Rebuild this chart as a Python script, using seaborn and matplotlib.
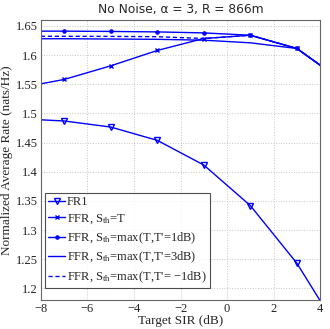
import matplotlib
matplotlib.use("Agg")
import matplotlib.pyplot as plt
import seaborn as sns
import pandas as pd

# Data
x = [-8, -7, -5, -3, -1, 1, 3, 4]
fr1 = [1.489, 1.487, 1.4766, 1.4538, 1.4115, 1.342, 1.2432, 1.179]
ffr_t = [1.5507, 1.5582, 1.5815, 1.6079, 1.6284, 1.634, 1.6113, 1.5827]
ffr_1db = [1.641, 1.641, 1.6405, 1.6397, 1.638, 1.634, 1.6113, 1.5827]
ffr_3db = [1.628, 1.628, 1.6275, 1.627, 1.6255, 1.621, 1.6113, 1.5827]
ffr_m1db = [1.6322, 1.6322, 1.632, 1.6315, 1.6284, 1.634, 1.6113, 1.5827]

labels = ["FR1",
          r"FFR, S$_{\mathrm{th}}$=T",
          r"FFR, S$_{\mathrm{th}}$=max(T,T'=1dB)",
          r"FFR, S$_{\mathrm{th}}$=max(T,T'=3dB)",
          r"FFR, S$_{\mathrm{th}}$=max(T,T'= $-$1dB)"]
xticks = [-8, -6, -4, -2, 0, 2, 4]
yticks = [1.2, 1.25, 1.3, 1.35, 1.4, 1.45, 1.5, 1.55, 1.6, 1.65]

sns.set_theme(style="white")
plt.rcParams["font.family"] = ["Liberation Serif", "DejaVu Serif"]
plt.rcParams["mathtext.fontset"] = "custom"
plt.rcParams["mathtext.rm"] = "Liberation Serif"
plt.rcParams["mathtext.it"] = "Liberation Serif:italic"

fig = plt.figure(figsize=(3.30, 3.29), dpi=100)
ax = fig.add_axes([0.124, 0.088, 0.846, 0.851])

blue = (0, 0, 1)
mk = [1, 2, 3, 4, 5, 6]
styles = [
    dict(marker="v", markersize=4.5, markerfacecolor="none", markeredgecolor=blue,
         markeredgewidth=1, linestyle="-", markevery=mk),
    dict(marker="x", markersize=3.5, markeredgewidth=1, markeredgecolor=blue,
         linestyle="-", markevery=mk),
    dict(marker=".", markersize=5, markeredgecolor=blue, markerfacecolor=blue,
         linestyle="-", markevery=mk),
    dict(marker="None", linestyle="-"),
    dict(marker="None", linestyle=(0, (3, 2))),
]
handles = []
for vals, lab, st in zip([fr1, ffr_t, ffr_1db, ffr_3db, ffr_m1db], labels, styles):
    df = pd.DataFrame({"x": x, "y": vals})
    n0 = len(ax.lines)
    sns.lineplot(data=df, x="x", y="y", ax=ax, color=blue, linewidth=1.0,
                 sort=False, legend=False)
    ln = ax.lines[n0]
    ln.set_linestyle(st.pop("linestyle"))
    for k, v in st.items():
        getattr(ln, "set_" + k)(v)
    ln.set_label(lab)
    handles.append(ln)

ax.set_xlim(-8, 4)
ax.set_ylim(1.18, 1.66)
ax.set_xticks(xticks)
ax.set_xticklabels([str(v).replace("-", "\u2212") for v in xticks])
ax.set_yticks(yticks)
ax.set_yticklabels([f"{v:g}" for v in yticks])
ax.tick_params(direction="in", length=3, labelsize=9, pad=2, colors="#222222")
ax.tick_params(axis="both", color="#555555")
ax.grid(True, linestyle=":", color="#c8c8c8", linewidth=0.7)
for s in ax.spines.values():
    s.set_color("#666666")
    s.set_linewidth(0.8)

ax.set_xlabel("Target SIR (dB)", fontsize=9.5, labelpad=0)
ax.set_ylabel("Normalized Average Rate (nats/Hz)", fontsize=9.5, labelpad=2)
ax.set_title("No Noise, \u03b1 = 3, R = 866m", fontsize=8.8,
             family=["DejaVu Sans"], pad=5)

leg = ax.legend(handles=handles, labels=labels, loc="lower left",
                bbox_to_anchor=(0.0, 0.03), fontsize=9,
                frameon=True, fancybox=False, handlelength=1.4,
                handletextpad=0.15, borderpad=0.25, labelspacing=0.33,
                borderaxespad=0.3)
leg.get_frame().set_edgecolor("#222222")
leg.get_frame().set_linewidth(0.8)

fig.savefig("out.png", dpi=100)
